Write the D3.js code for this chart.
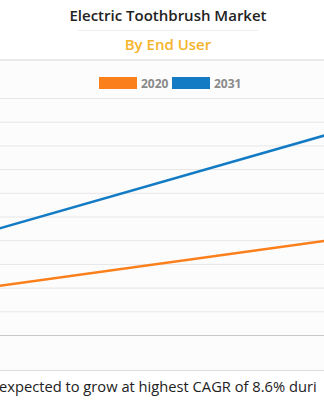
<!DOCTYPE html>
<html>
<head>
<meta charset="utf-8">
<script src="https://cdn.jsdelivr.net/npm/d3@7"></script>
<style>
  body { margin: 0; background: #fff; font-family: "Open Sans", sans-serif; }
  svg { display: block; }
</style>
</head>
<body>
<svg id="chart" width="324" height="405"></svg>
<script>
// chart data
var endUsers = ['Children', 'Adults'];
var years = ['2020', '2031'];
var values2020 = [1.79, 4.29];
var values2031 = [3.90, 9.09];
var yTicks = [0, 1, 2, 3, 4, 5, 6, 7, 8, 9, 10];
var colors = ['#fb7f1a', '#127bc4'];

var w = 324, h = 405;
var margin = {top: 98, bottom: 70};
var svg = d3.select('svg#chart');

// title block
svg.append('text')
    .attr('x', 168).attr('y', 21)
    .attr('text-anchor', 'middle')
    .style('font-size', '15px').style('font-weight', 600)
    .style('fill', '#222')
    .text('Electric Toothbrush Market');
svg.append('line')
    .attr('x1', 78).attr('x2', 258).attr('y1', 30.5).attr('y2', 30.5)
    .style('stroke', '#eee');
svg.append('text')
    .attr('x', 168).attr('y', 50)
    .attr('text-anchor', 'middle')
    .style('font-size', '15px').style('font-weight', 600)
    .style('fill', '#f6b42b')
    .text('By End User');

// panel
svg.append('rect')
    .attr('x', 0).attr('y', 60).attr('width', w).attr('height', 310)
    .style('fill', '#fcfcfc');
svg.append('rect')
    .attr('x', 0).attr('y', 59).attr('width', w).attr('height', 2)
    .style('fill', '#e9e9e9');
svg.append('line')
    .attr('x1', 0).attr('x2', w).attr('y1', 370.5).attr('y2', 370.5)
    .style('stroke', '#ddd');

// scales: the category points lie outside the visible crop
var x = d3.scalePoint().domain(endUsers).range([-50, 380]);
var y = d3.scaleLinear().domain([0, 10]).range([335, margin.top]);

var grid = svg.append('g')
    .call(d3.axisLeft(y).tickValues(yTicks).tickSize(-w - 100).tickFormat(''));
grid.select('.domain').remove();
grid.selectAll('.tick line').style('stroke', '#e6e6e6');
grid.selectAll('.tick').filter(function(d) { return d === 0; })
    .select('line').style('stroke', '#c8c8c8');

var series = [values2020, values2031];
var line = d3.line()
    .x(function(d, i) { return x(endUsers[i]); })
    .y(function(d) { return y(d); });

svg.selectAll('.series')
    .data(series)
    .enter().append('path')
    .attr('class', 'series')
    .attr('d', line)
    .style('fill', 'none')
    .style('stroke', function(d, i) { return colors[i]; })
    .style('stroke-width', 2.5);

// legend
var legendX = [99, 172];
var leg = svg.selectAll('.legend')
    .data(years)
    .enter().append('g')
    .attr('class', 'legend')
    .attr('transform', function(d, i) { return 'translate(' + legendX[i] + ',77)'; });
leg.append('rect')
    .attr('width', 38).attr('height', 12)
    .style('fill', function(d, i) { return colors[i]; });
leg.append('text')
    .attr('x', 42).attr('y', 10.5)
    .style('font-size', '12px').style('font-weight', 700)
    .style('fill', '#8a8a8a')
    .text(function(d) { return d; });

// footnote, cut by the crop
svg.append('clipPath').attr('id', 'noteClip')
    .append('rect').attr('x', 0).attr('y', 372).attr('width', 317).attr('height', 33);
svg.append('text')
    .attr('clip-path', 'url(#noteClip)')
    .attr('x', -1).attr('y', 392)
    .style('font-size', '14.7px').style('fill', '#222')
    .text('expected to grow at highest CAGR of 8.6% during 2022-2031');
</script>
</body>
</html>
